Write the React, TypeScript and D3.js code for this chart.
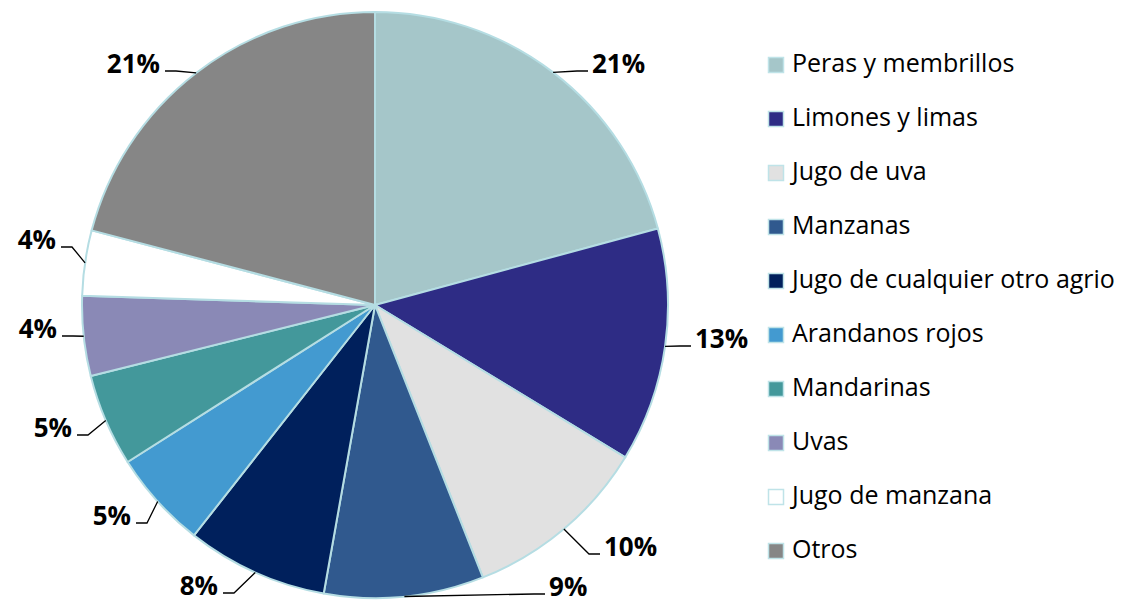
import React from "react";
import * as d3 from "d3";

const categories = [
  "Peras y membrillos",
  "Limones y limas",
  "Jugo de uva",
  "Manzanas",
  "Jugo de cualquier otro agrio",
  "Arandanos rojos",
  "Mandarinas",
  "Uvas",
  "Jugo de manzana",
  "Otros",
];
const shares = [20.8, 12.9, 10.3, 8.8, 7.8, 5.4, 5.1, 4.4, 3.6, 20.9];
const colors = [
  "#a5c6c9",
  "#2e2c85",
  "#e1e1e1",
  "#30598e",
  "#00205c",
  "#439ad0",
  "#43989b",
  "#8a89b6",
  "#ffffff",
  "#868686",
];

// layout: leader end points relative to pie centre (next to label text)
const labelAnchors: [number, number][] = [
  [213, -234],
  [316, 41],
  [225, 249],
  [170, 289],
  [-152, 288],
  [-239, 218],
  [-298, 130],
  [-313, 31],
  [-314, -58],
  [-210, -234],
];

const W = 1129;
const H = 604;
const cx = 375;
const cy = 305;
const R = 293;

export default function App() {
  const pie = d3
    .pie<number>()
    .sort(null)
    .value((d) => d)
    .startAngle(0)
    .endAngle(2 * Math.PI);
  const arcs = pie(shares);
  const arc = d3.arc<d3.PieArcDatum<number>>().innerRadius(0).outerRadius(R);
  const total = d3.sum(shares);

  return (
    <svg
      width={W}
      height={H}
      style={{ position: "absolute", left: 0, top: 0, background: "#fff" }}
      fontFamily="'Open Sans', 'Noto Sans', sans-serif"
    >
      <g transform={`translate(${cx},${cy})`}>
        {arcs.map((a, i) => (
          <path
            key={i}
            d={arc(a) || ""}
            fill={colors[i]}
            stroke="#b5dde3"
            strokeWidth={2}
            strokeLinejoin="round"
          />
        ))}
        {arcs.map((a, i) => {
          const mid = (a.startAngle + a.endAngle) / 2;
          const px = R * Math.sin(mid);
          const py = -R * Math.cos(mid);
          const [tx, ty] = labelAnchors[i];
          const side = tx >= 0 ? 1 : -1;
          const kx = tx - side * 11;
          const pct = Math.round((a.value / total) * 100);
          return (
            <g key={"l" + i}>
              <polyline
                points={`${px},${py} ${kx},${ty} ${tx},${ty}`}
                fill="none"
                stroke="#000"
                strokeWidth={1.3}
              />
              <text
                x={tx + side * (side > 0 ? 4 : 5)}
                y={ty + 2}
                textAnchor={side > 0 ? "start" : "end"}
                fontWeight="bold"
                fontSize={26}
                fill="#000"
              >
                {pct}%
              </text>
            </g>
          );
        })}
      </g>
      <g>
        {categories.map((c, i) => {
          const y = 73 + i * 54;
          return (
            <g key={"lg" + i}>
              <rect
                x={768.5}
                y={y - 15.5}
                width={15}
                height={15}
                fill={colors[i]}
                stroke="#bfe3e8"
                strokeWidth={1.5}
              />
              <text x={792} y={y - 1} fontSize={25} fill="#000">
                {c}
              </text>
            </g>
          );
        })}
      </g>
    </svg>
  );
}
